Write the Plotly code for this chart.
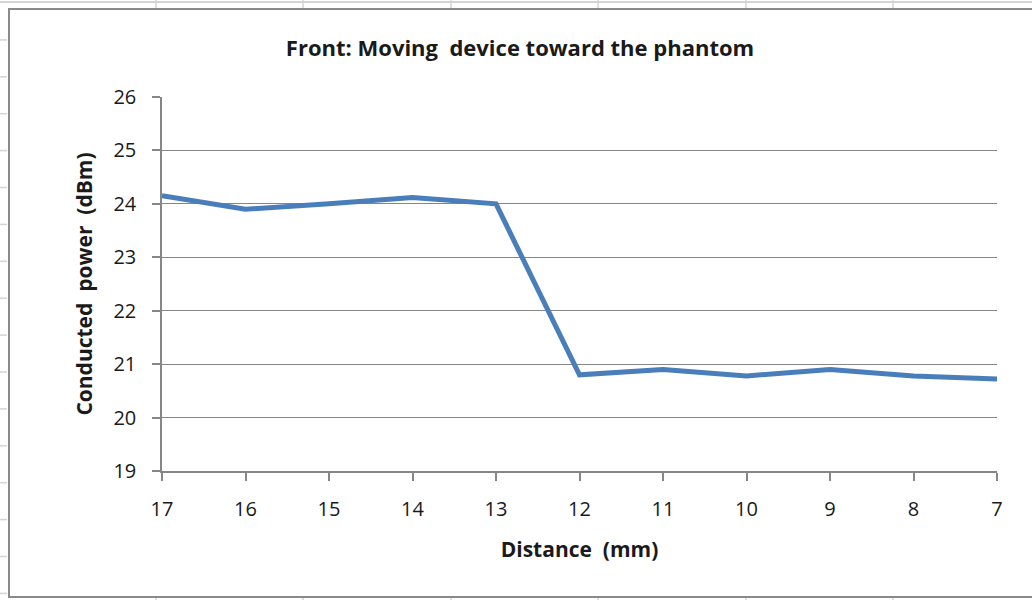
import plotly.graph_objects as go

distance_mm = [17, 16, 15, 14, 13, 12, 11, 10, 9, 8, 7]
power_dbm = [24.15, 23.9, 24.0, 24.12, 24.0, 20.8, 20.9, 20.78, 20.9, 20.78, 20.72]
y_ticks = [19, 20, 21, 22, 23, 24, 25, 26]

title_text = "Front: Moving  device toward the phantom"
x_title = "Distance  (mm)"
y_title = "Conducted  power  (dBm)"

W, H = 1032, 600
L, R, T, B = 162, 997, 97, 471

def px(x):
    return (x - L) / (R - L)

def py(y):
    return (B - y) / (B - T)

grid_col = "#868686"
fig = go.Figure()
fig.add_trace(go.Scatter(
    x=distance_mm, y=power_dbm, mode="lines",
    line=dict(color="#4a7ebb", width=5),
    hoverinfo="skip", showlegend=False,
))

shapes = []
# chart area border
shapes.append(dict(type="rect", xref="paper", yref="paper",
                   x0=px(9), x1=px(1040), y0=py(9), y1=py(597),
                   line=dict(color="#8a8a8a", width=2), layer="below"))
# spreadsheet cell lines outside chart
cell_col = "#d4d4d4"
shapes.append(dict(type="line", xref="paper", yref="paper",
                   x0=px(0), x1=px(1032), y0=py(2), y1=py(2),
                   line=dict(color=cell_col, width=2)))
for cx in [156, 303, 451, 598, 746, 893]:
    shapes.append(dict(type="line", xref="paper", yref="paper",
                       x0=px(cx), x1=px(cx), y0=py(0), y1=py(8),
                       line=dict(color=cell_col, width=1.5)))
    shapes.append(dict(type="line", xref="paper", yref="paper",
                       x0=px(cx), x1=px(cx), y0=py(598), y1=py(600),
                       line=dict(color=cell_col, width=1.5)))
for k in range(1, 17):
    ry = 3 + 36.9 * k
    shapes.append(dict(type="line", xref="paper", yref="paper",
                       x0=px(0), x1=px(7), y0=py(ry), y1=py(ry),
                       line=dict(color=cell_col, width=1.5)))

font_family = "Open Sans, Noto Sans, sans-serif"

fig.update_layout(
    width=W, height=H,
    margin=dict(l=L, r=W - R, t=T, b=H - B),
    paper_bgcolor="white", plot_bgcolor="white",
    shapes=shapes,
    title=dict(text=f"<b>{title_text}</b>", x=(280 + 760) / 2 / W, xanchor="center",
               y=1 - 48 / H, yanchor="middle",
               font=dict(family=font_family, size=22, color="#1a1a1a")),
    xaxis=dict(
        range=[17, 7], tickvals=distance_mm, ticktext=[str(d) for d in distance_mm],
        showgrid=False, zeroline=False,
        showline=True, linecolor=grid_col, linewidth=1.5,
        ticks="outside", ticklen=8, tickcolor=grid_col, tickwidth=1.5,
        tickfont=dict(family=font_family, size=20, color="#1a1a1a"),
        ticklabelstandoff=11,
        title=dict(text=f"<b>{x_title}</b>", standoff=22,
                   font=dict(family=font_family, size=21, color="#1a1a1a")),
    ),
    yaxis=dict(
        range=[19, 26], tickvals=y_ticks,
        showgrid=True, gridcolor=grid_col, gridwidth=1.2,
        zeroline=False,
        showline=True, linecolor=grid_col, linewidth=1.5,
        ticks="outside", ticklen=8, tickcolor=grid_col, tickwidth=1.5,
        tickfont=dict(family=font_family, size=20, color="#1a1a1a"),
        ticklabelstandoff=12,
        title=dict(text=f"<b>{y_title}</b>", standoff=15,
                   font=dict(family=font_family, size=21, color="#1a1a1a")),
    ),
)

fig.write_html("out.html", config={"displayModeBar": False},
               post_script="document.body.style.margin='0';")
